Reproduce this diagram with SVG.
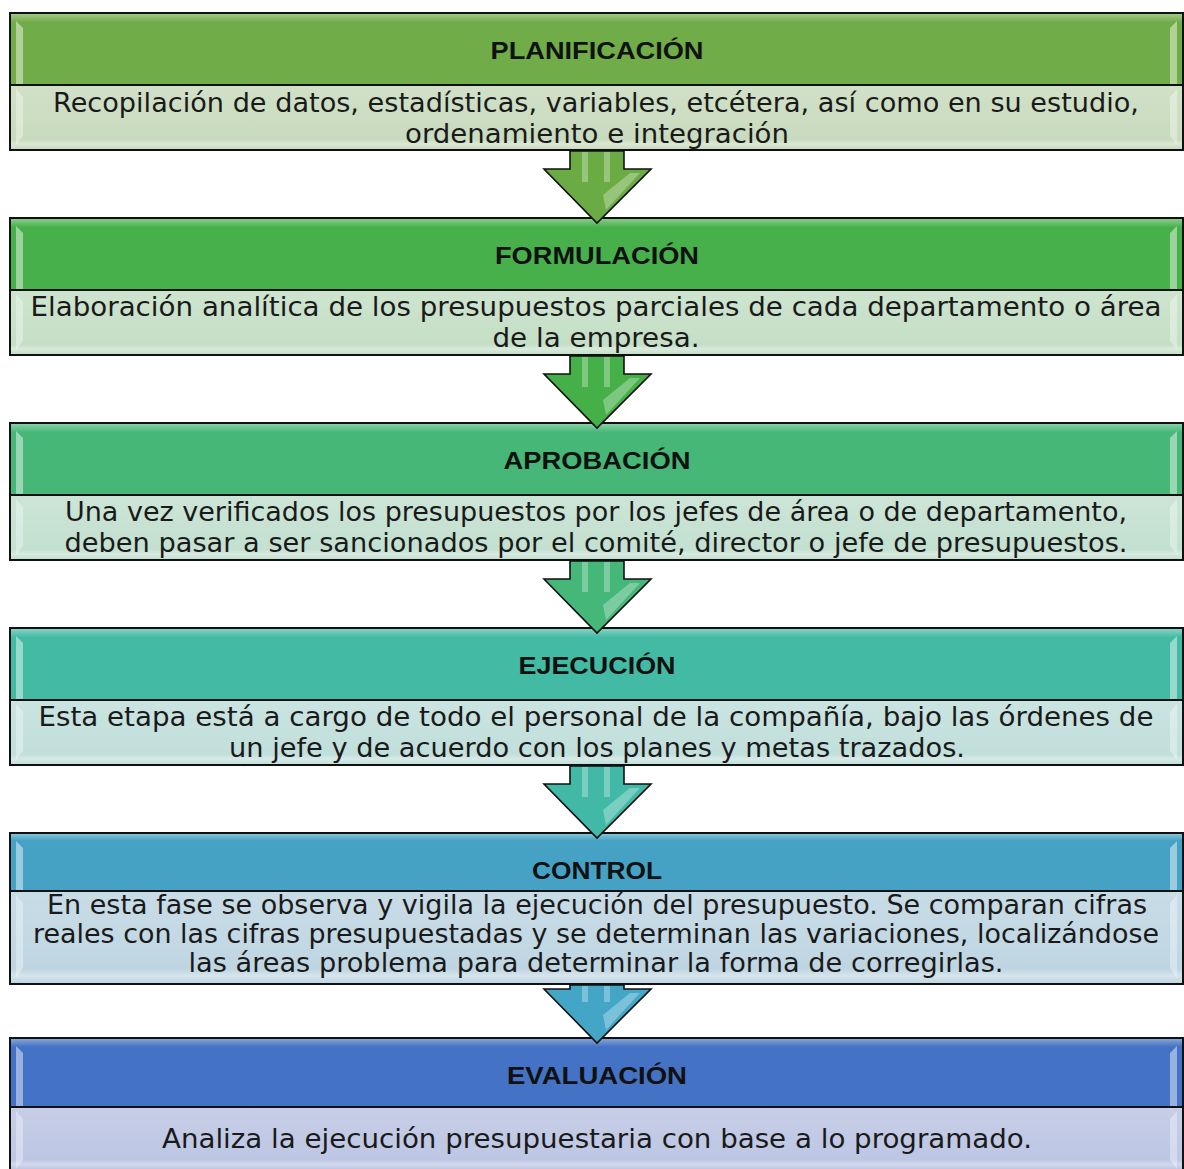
<svg xmlns="http://www.w3.org/2000/svg" width="1184" height="1169" viewBox="0 0 1184 1169">
<style>
.frame{stroke:#111;stroke-width:2}
.hdr{font-family:"Liberation Sans","DejaVu Sans",sans-serif;font-weight:bold;font-size:24px;fill:#111;text-anchor:middle}
.body{font-family:"DejaVu Sans","Liberation Sans",sans-serif;font-size:26px;fill:#1a1a1a;text-anchor:middle}
.hl{fill:#fff;opacity:0.45}
.hl2{fill:#fff;opacity:0.35}
.arr{stroke:#111;stroke-width:1.6;stroke-linejoin:miter}
.shine{fill:#fff;opacity:0.3}
</style>
<defs>
<linearGradient id="gTop" x1="0" y1="0" x2="0" y2="1">
<stop offset="0" stop-color="#fff" stop-opacity="0.35"/>
<stop offset="0.12" stop-color="#fff" stop-opacity="0"/>
<stop offset="1" stop-color="#fff" stop-opacity="0"/>
</linearGradient>
<linearGradient id="gBody" x1="0" y1="0" x2="0" y2="1">
<stop offset="0" stop-color="#fff" stop-opacity="0.15"/>
<stop offset="0.85" stop-color="#fff" stop-opacity="0"/>
<stop offset="0.92" stop-color="#fff" stop-opacity="0.35"/>
<stop offset="1" stop-color="#fff" stop-opacity="0"/>
</linearGradient>
</defs>

<g id="nodes">
<g id="planificacion">
<rect x="10" y="13" width="1173" height="72" fill="#70AC47" class="frame"/>
<rect x="11" y="14" width="1171" height="70" fill="url(#gTop)"/>
<rect x="10" y="85" width="1173" height="65" fill="#C9DBBE" class="frame"/>
<rect x="11" y="86" width="1171" height="63" fill="url(#gBody)"/>
<polygon class="hl" points="16,21 23,28 23,84 16,84"/>
<polygon class="hl" points="1177,21 1170,28 1170,84 1177,84"/>
<polygon class="hl2" points="16,89 23,97 23,136 16,145"/>
<polygon class="hl2" points="1177,89 1170,97 1170,136 1177,145"/>
<text class="hdr" x="597" y="59" textLength="213" lengthAdjust="spacingAndGlyphs">PLANIFICACIÓN</text>
<text class="body" x="596" y="112" textLength="1086" lengthAdjust="spacingAndGlyphs">Recopilación de datos, estadísticas, variables, etcétera, así como en su estudio,</text>
<text class="body" x="597" y="143" textLength="384" lengthAdjust="spacingAndGlyphs">ordenamiento e integración</text>
</g>

<g id="formulacion">
<rect x="10" y="218" width="1173" height="72" fill="#47B04B" class="frame"/>
<rect x="11" y="219" width="1171" height="70" fill="url(#gTop)"/>
<rect x="10" y="290" width="1173" height="65" fill="#C5DFC6" class="frame"/>
<rect x="11" y="291" width="1171" height="63" fill="url(#gBody)"/>
<polygon class="hl" points="16,226 23,233 23,289 16,289"/>
<polygon class="hl" points="1177,226 1170,233 1170,289 1177,289"/>
<polygon class="hl2" points="16,294 23,302 23,341 16,350"/>
<polygon class="hl2" points="1177,294 1170,302 1170,341 1177,350"/>
<text class="hdr" x="597" y="264" textLength="204" lengthAdjust="spacingAndGlyphs">FORMULACIÓN</text>
<text class="body" x="596" y="316" textLength="1131" lengthAdjust="spacingAndGlyphs">Elaboración analítica de los presupuestos parciales de cada departamento o área</text>
<text class="body" x="596" y="347" textLength="207" lengthAdjust="spacingAndGlyphs">de la empresa.</text>
</g>

<g id="aprobacion">
<rect x="10" y="423" width="1173" height="72" fill="#46B777" class="frame"/>
<rect x="11" y="424" width="1171" height="70" fill="url(#gTop)"/>
<rect x="10" y="495" width="1173" height="65" fill="#C3E0D0" class="frame"/>
<rect x="11" y="496" width="1171" height="63" fill="url(#gBody)"/>
<polygon class="hl" points="16,431 23,438 23,494 16,494"/>
<polygon class="hl" points="1177,431 1170,438 1170,494 1177,494"/>
<polygon class="hl2" points="16,499 23,507 23,546 16,555"/>
<polygon class="hl2" points="1177,499 1170,507 1170,546 1177,555"/>
<text class="hdr" x="597" y="469" textLength="187" lengthAdjust="spacingAndGlyphs">APROBACIÓN</text>
<text class="body" x="596" y="521" textLength="1062" lengthAdjust="spacingAndGlyphs">Una vez verificados los presupuestos por los jefes de área o de departamento,</text>
<text class="body" x="596" y="552" textLength="1063" lengthAdjust="spacingAndGlyphs">deben pasar a ser sancionados por el comité, director o jefe de presupuestos.</text>
</g>

<g id="ejecucion">
<rect x="10" y="628" width="1173" height="72" fill="#43BAA4" class="frame"/>
<rect x="11" y="629" width="1171" height="70" fill="url(#gTop)"/>
<rect x="10" y="700" width="1173" height="65" fill="#C1DFDB" class="frame"/>
<rect x="11" y="701" width="1171" height="63" fill="url(#gBody)"/>
<polygon class="hl" points="16,636 23,643 23,699 16,699"/>
<polygon class="hl" points="1177,636 1170,643 1170,699 1177,699"/>
<polygon class="hl2" points="16,704 23,712 23,751 16,760"/>
<polygon class="hl2" points="1177,704 1170,712 1170,751 1177,760"/>
<text class="hdr" x="597" y="674" textLength="157" lengthAdjust="spacingAndGlyphs">EJECUCIÓN</text>
<text class="body" x="596" y="726" textLength="1115" lengthAdjust="spacingAndGlyphs">Esta etapa está a cargo de todo el personal de la compañía, bajo las órdenes de</text>
<text class="body" x="597" y="757" textLength="736" lengthAdjust="spacingAndGlyphs">un jefe y de acuerdo con los planes y metas trazados.</text>
</g>

<g id="control">
<rect x="10" y="833" width="1173" height="58" fill="#45A2C5" class="frame"/>
<rect x="11" y="834" width="1171" height="56" fill="url(#gTop)"/>
<rect x="10" y="891" width="1173" height="93" fill="#BFD6E2" class="frame"/>
<rect x="11" y="892" width="1171" height="91" fill="url(#gBody)"/>
<polygon class="hl" points="16,841 23,848 23,890 16,890"/>
<polygon class="hl" points="1177,841 1170,848 1170,890 1177,890"/>
<polygon class="hl2" points="16,895 23,903 23,968 16,978"/>
<polygon class="hl2" points="1177,895 1170,903 1170,968 1177,978"/>
<text class="hdr" x="597" y="879" textLength="130" lengthAdjust="spacingAndGlyphs">CONTROL</text>
<text class="body" x="597" y="914" textLength="1100" lengthAdjust="spacingAndGlyphs">En esta fase se observa y vigila la ejecución del presupuesto. Se comparan cifras</text>
<text class="body" x="596" y="943" textLength="1126" lengthAdjust="spacingAndGlyphs">reales con las cifras presupuestadas y se determinan las variaciones, localizándose</text>
<text class="body" x="596" y="972" textLength="815" lengthAdjust="spacingAndGlyphs">las áreas problema para determinar la forma de corregirlas.</text>
</g>

<g id="evaluacion">
<rect x="10" y="1038" width="1173" height="69" fill="#4472C4" class="frame"/>
<rect x="11" y="1039" width="1171" height="67" fill="url(#gTop)"/>
<rect x="10" y="1107" width="1173" height="70" fill="#BDC6E3" class="frame"/>
<rect x="11" y="1108" width="1171" height="61" fill="url(#gBody)"/>
<polygon class="hl" points="16,1046 23,1053 23,1106 16,1106"/>
<polygon class="hl" points="1177,1046 1170,1053 1170,1106 1177,1106"/>
<polygon class="hl2" points="16,1111 23,1119 23,1160 16,1169"/>
<polygon class="hl2" points="1177,1111 1170,1119 1170,1160 1177,1169"/>
<text class="hdr" x="597" y="1084" textLength="180" lengthAdjust="spacingAndGlyphs">EVALUACIÓN</text>
<text class="body" x="597" y="1148" textLength="870" lengthAdjust="spacingAndGlyphs">Analiza la ejecución presupuestaria con base a lo programado.</text>
</g>
</g>

<g id="connectors">
<g id="arrow1">
<polygon class="arr" fill="#6AAC43" points="570,151 624,151 624,169 651,169 597,223 544,169 570,169"/>
<rect class="shine" x="582" y="152" width="6" height="30"/>
<rect class="shine" x="604" y="152" width="6" height="30"/>
<polygon class="shine" points="603,195 630,173 640,173 606,210"/>
</g>
<g id="arrow2">
<polygon class="arr" fill="#45AF48" points="570,356 624,356 624,374 651,374 597,428 544,374 570,374"/>
<rect class="shine" x="582" y="357" width="6" height="30"/>
<rect class="shine" x="604" y="357" width="6" height="30"/>
<polygon class="shine" points="603,400 630,378 640,378 606,415"/>
</g>
<g id="arrow3">
<polygon class="arr" fill="#44B779" points="570,561 624,561 624,579 651,579 597,633 544,579 570,579"/>
<rect class="shine" x="582" y="562" width="6" height="30"/>
<rect class="shine" x="604" y="562" width="6" height="30"/>
<polygon class="shine" points="603,605 630,583 640,583 606,620"/>
</g>
<g id="arrow4">
<polygon class="arr" fill="#41B9A6" points="570,766 624,766 624,784 651,784 597,838 544,784 570,784"/>
<rect class="shine" x="582" y="767" width="6" height="30"/>
<rect class="shine" x="604" y="767" width="6" height="30"/>
<polygon class="shine" points="603,810 630,788 640,788 606,825"/>
</g>
<g id="arrow5">
<polygon class="arr" fill="#43A6C6" points="570,985 624,985 624,989 651,989 597,1043 544,989 570,989"/>
<rect class="shine" x="582" y="986" width="6" height="16"/>
<rect class="shine" x="604" y="986" width="6" height="16"/>
<polygon class="shine" points="603,1015 630,993 640,993 606,1030"/>
</g>
</g>
</svg>
